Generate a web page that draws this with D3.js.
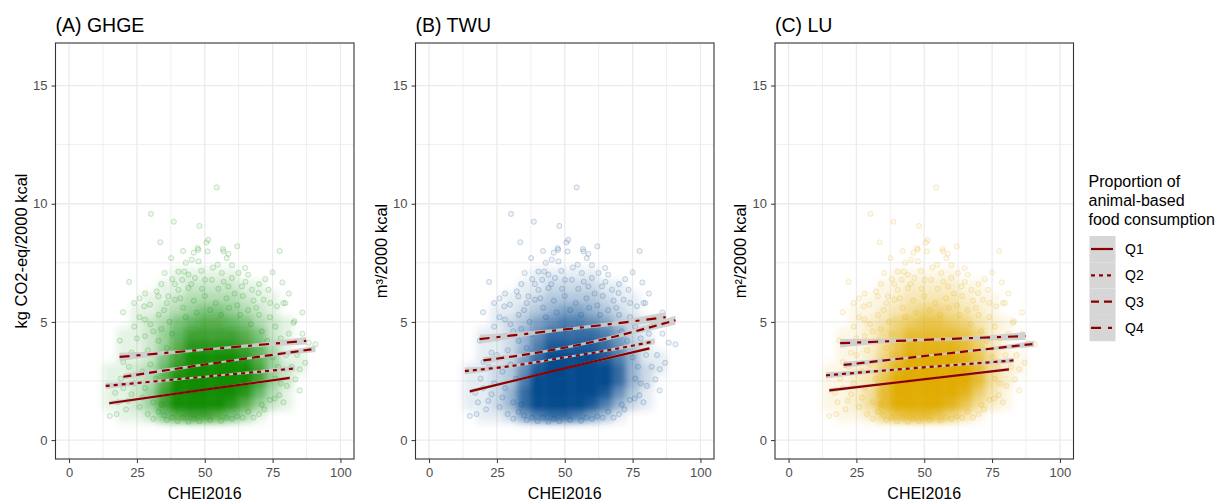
<!DOCTYPE html>
<html>
<head>
<meta charset="utf-8">
<script src="https://cdn.jsdelivr.net/npm/d3@7"></script>
<style>
  body { margin: 0; background: #fff; font-family: "Liberation Sans", Arial, sans-serif; }
</style>
</head>
<body>
<script>
var w = 1223;
var h = 502;

// ---- data ----
var panelTitles = ["(A) GHGE", "(B) TWU", "(C) LU"];
var yLabels = ["kg CO2-eq/2000 kcal", "m\u00b3/2000 kcal", "m\u00b2/2000 kcal"];
var pointColors = ["#0a8a00", "#00468b", "#e0ab00"];
var quartiles = ["Q1", "Q2", "Q3", "Q4"];
var xTicks = [0, 25, 50, 75, 100];
var yTicks = [0, 5, 10, 15];
var xMinor = [12.5, 37.5, 62.5, 87.5];
var yMinor = [2.5, 7.5, 12.5];

// density of the point cloud (0-10), cells of 5 CHEI units by 0.5 units
var densX = [15, 20, 25, 30, 35, 40, 45, 50, 55, 60, 65, 70, 75, 80, 85, 90];
var densY = [7.0, 6.5, 6.0, 5.5, 5.0, 4.5, 4.0, 3.5, 3.0, 2.5, 2.0, 1.5, 1.0];
var density = [
  [0, 0, 0, 0, 0, 1, 1, 1, 1, 1, 0, 0, 0, 0, 0, 0],
  [0, 0, 0, 0, 1, 1, 2, 2, 2, 2, 1, 1, 0, 0, 0, 0],
  [0, 0, 0, 1, 1, 2, 3, 3, 3, 3, 2, 1, 1, 0, 0, 0],
  [0, 0, 1, 1, 2, 3, 4, 5, 5, 4, 3, 2, 1, 0, 0, 0],
  [0, 0, 1, 2, 3, 5, 6, 7, 7, 6, 5, 3, 2, 1, 0, 0],
  [0, 1, 1, 2, 4, 6, 8, 8, 8, 8, 7, 5, 2, 1, 0, 0],
  [0, 1, 1, 2, 4, 7, 9, 9, 9, 9, 8, 6, 3, 1, 0, 0],
  [0, 1, 1, 2, 5, 8, 10, 10, 10, 10, 9, 7, 4, 1, 1, 0],
  [1, 1, 2, 3, 6, 9, 10, 10, 10, 10, 10, 8, 4, 2, 1, 0],
  [1, 1, 2, 3, 7, 10, 10, 10, 10, 10, 10, 8, 4, 2, 0, 0],
  [1, 1, 2, 4, 8, 10, 10, 10, 10, 10, 9, 6, 3, 1, 0, 0],
  [1, 1, 2, 4, 8, 10, 10, 10, 10, 9, 7, 4, 2, 1, 0, 0],
  [0, 1, 1, 2, 5, 7, 8, 8, 7, 5, 3, 1, 0, 0, 0, 0]
];

// individual points visible around the cloud [CHEI2016, value]
var outerPoints = [
  [54.4, 10.69], [30.2, 9.57], [38.6, 9.24], [48, 9.06], [33.6, 8.37], [50.6, 8.36], [51.3, 8.47], [47.4, 8.12],
  [56.7, 8.08], [77.6, 8.0], [45.9, 7.93], [47.6, 8.05], [51, 7.98], [56.9, 7.98], [58.7, 7.88], [58.1, 7.7],
  [37.6, 7.7], [45.2, 7.63], [47.7, 7.56], [54.8, 7.42], [22.1, 6.69], [35.2, 7.07], [40.3, 7.13], [42.5, 7.13],
  [48.7, 7.16], [64.9, 7.28], [62.4, 7.07], [72.3, 6.81], [78.6, 6.67], [32.3, 6.29], [32.9, 6.08], [29.8, 5.73],
  [27.7, 5.66], [19.9, 5.41], [79.7, 5.8], [76.6, 5.66], [74.1, 5.8], [38, 6.81], [41.7, 6.78], [46.4, 6.86],
  [50.1, 6.78], [52.6, 6.78], [56.3, 7.07], [60, 6.86], [58.7, 6.5], [63.7, 6.5], [67.4, 6.36], [69.8, 6.22],
  [40.3, 6.36], [44, 6.43], [36.6, 6.08], [39, 5.94], [71.7, 5.94], [73.5, 6.36],
  [18.7, 4.21], [15, 1.02], [17.5, 1.1], [23, 1.94], [21.8, 1.66], [87, 3.27], [90.8, 4.05], [88.3, 4.12],
  [82.7, 4.96], [83.4, 2.57], [80.3, 2.29], [77.5, 1.9], [75.7, 1.76], [83, 5.03], [79, 5.8],
  [24, 4.8], [26, 5.2], [22, 3.1], [19, 2.6], [17, 2.0], [25, 3.6], [28, 4.4], [21, 1.3], [26, 1.4], [24, 2.4],
  [29, 1.1], [31, 0.9], [27, 2.9], [30, 4.9], [33, 5.3],
  [80, 3.6], [82, 3.1], [78, 4.3], [85, 2.1], [79, 1.6], [76, 4.8], [72, 1.3], [70, 1.1], [68, 0.95], [74, 5.2],
  [81, 4.5], [86, 4.5], [84, 3.6],
  [36, 0.85], [40, 0.8], [44, 0.78], [48, 0.8], [52, 0.85], [56, 0.82], [60, 0.9], [64, 0.95], [33, 1.2], [38, 0.95],
  [42, 5.6], [46, 5.9], [50, 6.1], [54, 5.8], [58, 6.0], [62, 5.7], [66, 5.5], [45, 6.6], [55, 6.4], [61, 6.2],
  [35, 5.5], [68, 5.9], [70, 5.3], [37, 5.0], [65, 6.7], [53, 7.3], [43, 7.5],
  [31, 4.6], [33, 4.2], [29, 3.8], [30, 3.2], [28, 2.2], [31, 1.6], [27, 1.8], [32, 2.6], [34, 4.7], [36, 5.8],
  [39, 6.6], [41, 6.0], [43, 5.2], [47, 5.4], [49, 6.4], [52, 5.5], [56, 5.3], [57, 6.7], [59, 5.6], [63, 5.3],
  [64, 6.1], [67, 4.9], [69, 5.6], [71, 4.6], [73, 4.2], [75, 3.5], [76, 2.6], [77, 3.1], [78, 2.4], [74, 1.7],
  [71, 1.5], [66, 1.2], [62, 1.0], [58, 0.95], [46, 0.9], [42, 0.95], [35, 1.05], [34, 1.5], [36, 3.9], [38, 4.5],
  [60, 7.4], [66, 7.0], [44, 7.0], [34, 6.6], [28, 6.2], [25, 4.3], [23, 3.7], [20, 3.3], [18, 1.6], [20, 2.2],
  [85, 3.0], [86, 5.4], [81, 6.2], [70, 6.6], [75, 7.1], [26, 6.0], [28, 5.1], [62, 8.2], [42, 8.0], [24, 5.8]
];

// fitted lines per quartile: [CHEI2016, fit, half-width of band]
var fitA = [
  [[14.8, 1.56, 0.09], [48, 2.10, 0.03], [81.3, 2.63, 0.08]],
  [[13.5, 2.29, 0.13], [48, 2.66, 0.04], [83.2, 3.03, 0.11]],
  [[20, 2.68, 0.13], [55, 3.28, 0.04], [90.8, 3.86, 0.13]],
  [[18.6, 3.52, 0.17], [52, 3.85, 0.05], [87.4, 4.20, 0.16]]
];
var fitB = [
  [[15, 2.06, 0.09], [46, 2.93, 0.03], [81.2, 3.88, 0.09]],
  [[13.2, 2.92, 0.15], [30, 3.13, 0.07], [50, 3.50, 0.05], [62, 3.72, 0.05], [83.1, 4.18, 0.13]],
  [[20, 3.37, 0.15], [40, 3.70, 0.06], [60, 4.15, 0.06], [90.8, 5.07, 0.19]],
  [[18.6, 4.27, 0.19], [46, 4.63, 0.07], [59, 4.80, 0.07], [87.2, 5.20, 0.21]]
];
var fitC = [
  [[15, 2.10, 0.09], [48, 2.55, 0.03], [81.2, 2.99, 0.08]],
  [[13.8, 2.74, 0.13], [48, 3.06, 0.04], [83, 3.37, 0.11]],
  [[20.3, 3.18, 0.13], [55, 3.62, 0.04], [90.5, 4.07, 0.13]],
  [[19, 4.10, 0.18], [52, 4.25, 0.06], [87.3, 4.40, 0.17]]
];
var fits = [fitA, fitB, fitC];

// ---- styles ----
var lineColor = "#8b0000";
var bandColor = "#cccccc";
var dashes = [null, "4,4", "8,5", "10,7,4,7"];
var panelLeft = [55.5, 415.5, 775];
var panelW = 298.5;
var panelTop = 43;
var panelBottom = 459;

var svg = d3.select("body").append("svg").attr("width", w).attr("height", h);
svg.append("rect").attr("width", w).attr("height", h).attr("fill", "#fff");

var defs = svg.append("defs");
defs.append("filter").attr("id", "soft")
  .attr("x", "-20%").attr("y", "-20%").attr("width", "140%").attr("height", "140%")
  .append("feGaussianBlur").attr("stdDeviation", 3.5);

var ys = d3.scaleLinear().domain([-0.8, 16.8]).range([panelBottom, panelTop]);

function drawPanel(i) {
  var x0 = panelLeft[i];
  var xs = d3.scaleLinear().domain([-5, 105]).range([x0, x0 + panelW]);
  var col = pointColors[i];
  var g = svg.append("g");

  defs.append("clipPath").attr("id", "clip" + i).append("rect")
    .attr("x", x0).attr("y", panelTop).attr("width", panelW).attr("height", panelBottom - panelTop);

  // grid
  g.selectAll(".vminor").data(xMinor).enter().append("line")
    .attr("x1", xs).attr("x2", xs).attr("y1", panelTop).attr("y2", panelBottom)
    .attr("stroke", "#ebebeb").attr("stroke-width", 0.8);
  g.selectAll(".hminor").data(yMinor).enter().append("line")
    .attr("x1", x0).attr("x2", x0 + panelW).attr("y1", ys).attr("y2", ys)
    .attr("stroke", "#ebebeb").attr("stroke-width", 0.8);
  g.selectAll(".vmajor").data(xTicks).enter().append("line")
    .attr("x1", xs).attr("x2", xs).attr("y1", panelTop).attr("y2", panelBottom)
    .attr("stroke", "#ebebeb").attr("stroke-width", 1.3);
  g.selectAll(".hmajor").data(yTicks).enter().append("line")
    .attr("x1", x0).attr("x2", x0 + panelW).attr("y1", ys).attr("y2", ys)
    .attr("stroke", "#ebebeb").attr("stroke-width", 1.3);

  var plot = g.append("g").attr("clip-path", "url(#clip" + i + ")");

  // dense part of the cloud
  var cells = [];
  density.forEach(function(row, r) {
    row.forEach(function(v, c) {
      if (v > 0) cells.push([densX[c], densY[r], v]);
    });
  });
  plot.append("g").attr("filter", "url(#soft)")
    .selectAll("rect").data(cells).enter().append("rect")
    .attr("x", function(d) { return xs(d[0] - 2.5); })
    .attr("y", function(d) { return ys(d[1] + 0.25); })
    .attr("width", function(d) { return xs(d[0] + 2.5) - xs(d[0] - 2.5); })
    .attr("height", function(d) { return ys(d[1] - 0.25) - ys(d[1] + 0.25); })
    .attr("fill", col)
    .attr("fill-opacity", function(d) { return d[2] / 10; });

  // scattered points
  plot.selectAll("circle.pt").data(outerPoints).enter().append("circle")
    .attr("class", "pt")
    .attr("cx", function(d) { return xs(d[0]); })
    .attr("cy", function(d) { return ys(d[1]); })
    .attr("r", 2.6)
    .attr("fill", col).attr("fill-opacity", 0.07)
    .attr("stroke", col).attr("stroke-opacity", 0.25).attr("stroke-width", 0.8);

  // confidence bands and fitted lines
  var band = d3.area().curve(d3.curveMonotoneX)
    .x(function(d) { return xs(d[0]); })
    .y0(function(d) { return ys(d[1] - d[2]); })
    .y1(function(d) { return ys(d[1] + d[2]); });
  var line = d3.line().curve(d3.curveMonotoneX)
    .x(function(d) { return xs(d[0]); })
    .y(function(d) { return ys(d[1]); });

  fits[i].forEach(function(f) {
    plot.append("path").attr("d", band(f)).attr("fill", bandColor).attr("fill-opacity", 0.9);
  });
  fits[i].forEach(function(f, q) {
    plot.append("path").attr("d", line(f))
      .attr("fill", "none").attr("stroke", lineColor).attr("stroke-width", 2.2)
      .attr("stroke-dasharray", dashes[q]);
  });

  // border
  g.append("rect").attr("x", x0).attr("y", panelTop).attr("width", panelW).attr("height", panelBottom - panelTop)
    .attr("fill", "none").attr("stroke", "#333").attr("stroke-width", 1.1);

  // axes
  var xa = g.append("g").attr("transform", "translate(0," + panelBottom + ")")
    .call(d3.axisBottom(xs).tickValues(xTicks).tickSize(4).tickPadding(5));
  var ya = g.append("g").attr("transform", "translate(" + x0 + ",0)")
    .call(d3.axisLeft(ys).tickValues(yTicks).tickSize(4).tickPadding(4));
  [xa, ya].forEach(function(a) {
    a.select(".domain").remove();
    a.selectAll("line").attr("stroke", "#333").attr("stroke-width", 1);
    a.selectAll("text").attr("fill", "#4d4d4d").style("font-size", "13px")
      .style("font-family", "'Liberation Sans', Arial, sans-serif");
  });

  // titles
  g.append("text").attr("x", x0).attr("y", 31.5).text(panelTitles[i])
    .style("font-size", "19.5px").attr("fill", "#000");
  g.append("text").attr("x", x0 + panelW / 2).attr("y", 499).attr("text-anchor", "middle")
    .text("CHEI2016").style("font-size", "16px").attr("fill", "#000");
  g.append("text").attr("transform", "translate(" + (x0 - 29) + "," + ((panelTop + panelBottom) / 2) + ") rotate(-90)")
    .attr("text-anchor", "middle").text(yLabels[i]).style("font-size", "16.5px").attr("fill", "#000");
}

for (var p = 0; p < 3; p++) drawPanel(p);

// legend
var leg = svg.append("g");
["Proportion of", "animal-based", "food consumption"].forEach(function(t, k) {
  leg.append("text").attr("x", 1088.5).attr("y", 187 + k * 19).text(t)
    .style("font-size", "16px").attr("fill", "#000");
});
leg.selectAll("rect.key").data(quartiles).enter().append("rect")
  .attr("class", "key")
  .attr("x", 1089.5).attr("y", function(d, k) { return 236 + k * 26.3; })
  .attr("width", 26).attr("height", 26.3)
  .attr("fill", "#d6d6d6");
leg.selectAll("line.key").data(quartiles).enter().append("line")
  .attr("x1", 1091).attr("x2", 1113)
  .attr("y1", function(d, k) { return 249 + k * 26.3; })
  .attr("y2", function(d, k) { return 249 + k * 26.3; })
  .attr("stroke", lineColor).attr("stroke-width", 2.2)
  .attr("stroke-dasharray", function(d, k) { return dashes[k]; });
leg.selectAll("text.key").data(quartiles).enter().append("text")
  .attr("x", 1125).attr("y", function(d, k) { return 249 + k * 26.3; })
  .attr("dy", "0.36em").text(function(d) { return d; })
  .style("font-size", "14px").attr("fill", "#000");
</script>
</body>
</html>
